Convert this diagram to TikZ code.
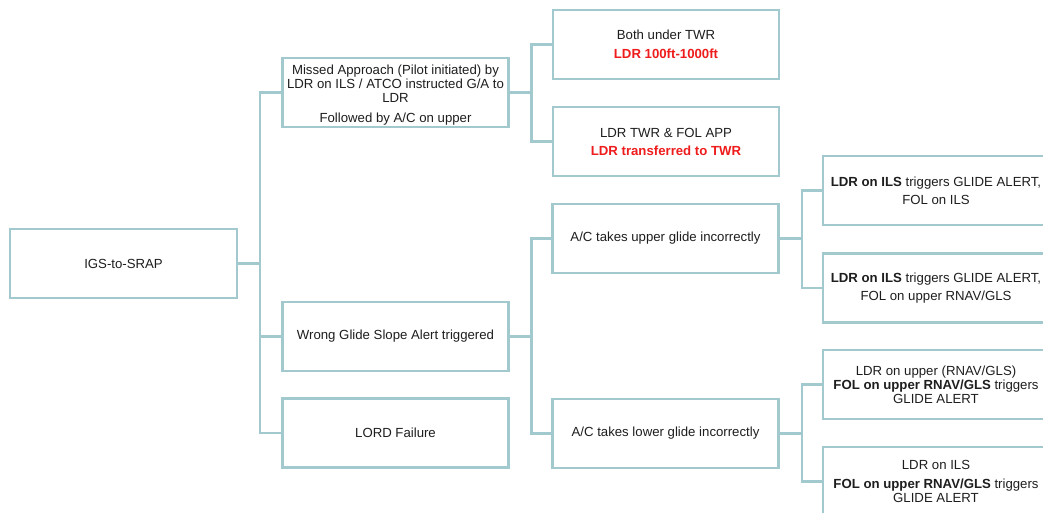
\documentclass[tikz,border=0pt]{standalone}
\usepackage{fontspec}
\setmainfont{Liberation Sans}
\definecolor{edgec}{HTML}{A2C9CD}
\definecolor{txt}{HTML}{1E1E1E}
\definecolor{redt}{HTML}{EE1C1C}
\begin{document}
\begin{tikzpicture}[x=1pt,y=-1pt,
  box/.style={draw=edgec, line width=2.3pt, fill=white, rectangle,
    minimum width=226pt, minimum height=69pt, inner sep=0pt, align=center,
    text=txt, font=\fontsize{13.2}{14}\selectfont},
  conn/.style={draw=edgec, line width=2.6pt}]
\useasboundingbox (0,0) rectangle (1043,513);
\fill[white] (0,0) rectangle (1043,513);
\clip (0,0) rectangle (1043,513);
\node[box, minimum width=227pt] (root) at (123.5,263.5) {IGS-to-SRAP};
\node[box] (ma) at (395.5,92.5) {\rule{0pt}{15pt}Missed Approach (Pilot initiated) by\\LDR on ILS / ATCO instructed G/A to\\LDR\\[6pt]Followed by A/C on upper};
\node[box] (wg) at (395.5,336.5) {Wrong Glide Slope Alert triggered};
\node[box] (lord) at (395.5,433) {LORD Failure};
\node[box] (both) at (666,44.5) {Both under TWR\\[5pt]\textbf{\color{redt}LDR 100ft-1000ft}};
\node[box] (twr) at (666,141.5) {LDR TWR \& FOL APP\\[4pt]\textbf{\color{redt}LDR transferred to TWR}};
\node[box] (up) at (665.5,238.5) {A/C takes upper glide incorrectly};
\node[box] (low) at (665.5,433.5) {A/C takes lower glide incorrectly};
\node[box] (r1) at (936,190.5) {\textbf{LDR on ILS} triggers GLIDE ALERT,\\[4pt]FOL on ILS};
\node[box] (r2) at (936,288) {\textbf{LDR on ILS} triggers GLIDE ALERT,\\[4pt]FOL on upper RNAV/GLS};
\node[box] (r3) at (936,384.5) {LDR on upper (RNAV/GLS)\\\textbf{FOL on upper RNAV/GLS} triggers\\GLIDE ALERT};
\node[box] (r4) at (936,481.5) {LDR on ILS\\[5pt]\textbf{FOL on upper RNAV/GLS} triggers\\GLIDE ALERT};
\foreach \c in {ma,wg,lord} \draw[conn] (root.east) -- ++(22,0) |- (\c.west);
\foreach \c in {both,twr} \draw[conn] (ma.east) -- ++(22,0) |- (\c.west);
\foreach \c in {up,low} \draw[conn] (wg.east) -- ++(22,0) |- (\c.west);
\foreach \c in {r1,r2} \draw[conn] (up.east) -- ++(22.5,0) |- (\c.west);
\foreach \c in {r3,r4} \draw[conn] (low.east) -- ++(22.5,0) |- (\c.west);
\end{tikzpicture}
\end{document}
